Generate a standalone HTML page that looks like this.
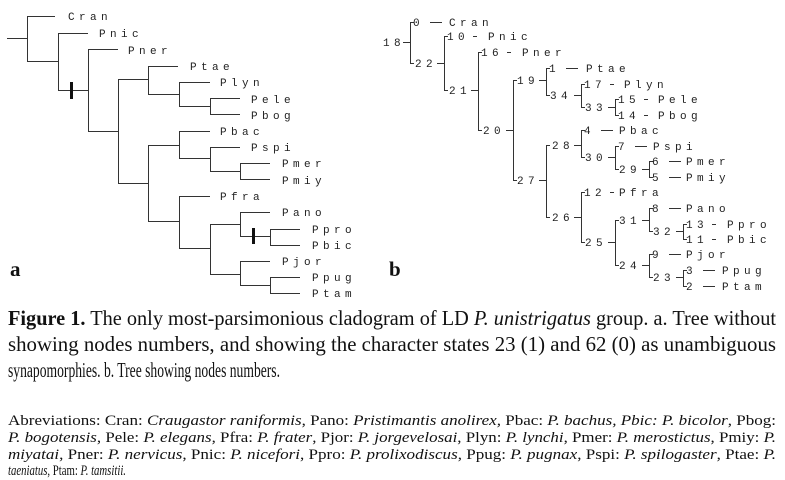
<!DOCTYPE html>
<html><head><meta charset="utf-8"><style>
html,body{margin:0;padding:0;background:#fff}
svg{display:block}
.t{font-family:"Liberation Mono",monospace;font-size:11px;letter-spacing:4.4px;fill:#222}
.c{font-family:"Liberation Serif",serif;font-size:21px;fill:#111}
.ab{font-family:"Liberation Serif",serif;font-size:15px;fill:#111}
</style></head><body>
<svg width="785" height="480" viewBox="0 0 785 480" xmlns="http://www.w3.org/2000/svg">
<g stroke="#333" stroke-width="1" fill="none">
<path d="M7 38.5H27.5M27.5 16V61M27 16.5H55M27 61.5H58.5M58.5 33V90M58 33.5H88M58 90.5H88.5M88.5 49V131M88 49.5H118M88 131.5H118.5M118.5 79V183M118 79.5H148.5M148.5 66V94M148 66.5H178M148 94.5H179.5M179.5 82V106M179 82.5H210M179 106.5H210.5M210.5 98V114M210 98.5H240M210 114.5H240"/>
<path d="M118 183.5H148.5M148.5 145V221M148 145.5H179.5M179.5 131V158M179 131.5H210M179 158.5H210.5M210.5 147V171M210 147.5H240M210 171.5H240.5M240.5 163V179M240 163.5H270M240 179.5H270"/>
<path d="M148 221.5H179.5M179.5 196V248M179 196.5H210M179 248.5H210.5M210.5 224V274M210 224.5H240.5M240.5 212V236M240 212.5H270M240 236.5H270.5M270.5 229V245M270 229.5H300M270 245.5H300M210 274.5H240.5M240.5 261V285M240 261.5H270M240 285.5H270.5M270.5 277V293M270 277.5H300M270 293.5H300"/>
</g>
<rect x="70" y="82" width="3" height="17" fill="#111"/>
<rect x="252" y="228" width="3" height="16" fill="#111"/>
<g class="t">
<text x="68" y="20">Cran</text><text x="99" y="37">Pnic</text><text x="128" y="54">Pner</text>
<text x="190" y="70">Ptae</text><text x="220" y="86">Plyn</text><text x="251" y="103">Pele</text><text x="251" y="119">Pbog</text>
<text x="220" y="135">Pbac</text><text x="251" y="151">Pspi</text><text x="282" y="167">Pmer</text><text x="282" y="184">Pmiy</text>
<text x="220" y="200">Pfra</text><text x="282" y="216">Pano</text><text x="312" y="233">Ppro</text><text x="312" y="249">Pbic</text>
<text x="282" y="265">Pjor</text><text x="312" y="281">Ppug</text><text x="312" y="297">Ptam</text>
</g>
<text x="10" y="276" font-family="Liberation Serif,serif" font-weight="bold" font-size="21" fill="#111">a</text>
<text x="389" y="276" font-family="Liberation Serif,serif" font-weight="bold" font-size="21" fill="#111">b</text>
<g stroke="#333" stroke-width="1" fill="none">
<path d="M414 22.5H410.5V63.5H414M403 42.5H410"/>
<path d="M448 36.5H444.5V90.5H448M437 63.5H444"/>
<path d="M482 52.5H478.5V130.5H482M471 90.5H478"/>
<path d="M517 80.5H513.5V180.5H517M506 130.5H513"/>
<path d="M550 68.5H546.5V95.5H550M539 80.5H546"/>
<path d="M585 84.5H581.5V107.5H585M574 95.5H581"/>
<path d="M619 99.5H615.5V115.5H619M608 107.5H615"/>
<path d="M550 145.5H546.5V217.5H550M539 180.5H546"/>
<path d="M585 130.5H581.5V157.5H585M574 145.5H581"/>
<path d="M619 146.5H615.5V169.5H619M608 157.5H615"/>
<path d="M653 161.5H649.5V177.5H653M642 169.5H649"/>
<path d="M585 192.5H581.5V242.5H585M574 217.5H581"/>
<path d="M619 220.5H615.5V265.5H619M608 242.5H615"/>
<path d="M653 208.5H649.5V231.5H653M642 220.5H649"/>
<path d="M687 224.5H683.5V239.5H687M676 231.5H683"/>
<path d="M653 254.5H649.5V277.5H653M642 265.5H649"/>
<path d="M687 270.5H683.5V286.5H687M676 277.5H683"/>
<path d="M430 22.5H442M566 68.5H578M601 130.5H613M635 146.5H647M669 161.5H681M669 177.5H681M669 208.5H681M669 254.5H681M703 270.5H715M703 286.5H715"/>
<path d="M473 36.5H477M507 52.5H511M610 84.5H614M644 99.5H648M644 115.5H648M610 192.5H614M712 224.5H716M712 239.5H716"/>
</g>
<g class="t">
<text x="383" y="46">18</text><text x="415" y="67">22</text><text x="449" y="94">21</text><text x="483" y="134">20</text>
<text x="517" y="84">19</text><text x="550" y="99">34</text><text x="585" y="111">33</text><text x="517" y="184">27</text>
<text x="552" y="149">28</text><text x="585" y="161">30</text><text x="619" y="173">29</text><text x="552" y="221">26</text>
<text x="585" y="246">25</text><text x="619" y="224">31</text><text x="653" y="235">32</text><text x="619" y="269">24</text><text x="653" y="281">23</text>
<text x="413" y="26">0</text><text x="449" y="26">Cran</text>
<text x="447" y="40">10</text><text x="488" y="40">Pnic</text>
<text x="481" y="56">16</text><text x="522" y="56">Pner</text>
<text x="549" y="72">1</text><text x="586" y="72">Ptae</text>
<text x="584" y="88">17</text><text x="624" y="88">Plyn</text>
<text x="618" y="103">15</text><text x="658" y="103">Pele</text>
<text x="618" y="119">14</text><text x="658" y="119">Pbog</text>
<text x="584" y="134">4</text><text x="619" y="134">Pbac</text>
<text x="618" y="150">7</text><text x="653" y="150">Pspi</text>
<text x="652" y="165">6</text><text x="686" y="165">Pmer</text>
<text x="652" y="181">5</text><text x="686" y="181">Pmiy</text>
<text x="584" y="196">12</text><text x="619" y="196">Pfra</text>
<text x="652" y="212">8</text><text x="686" y="212">Pano</text>
<text x="686" y="228">13</text><text x="727" y="228">Ppro</text>
<text x="686" y="243">11</text><text x="727" y="243">Pbic</text>
<text x="652" y="258">9</text><text x="686" y="258">Pjor</text>
<text x="686" y="274">3</text><text x="722" y="274">Ppug</text>
<text x="686" y="290">2</text><text x="722" y="290">Ptam</text>
</g>
<text class="c" x="8" y="325" textLength="768" lengthAdjust="spacingAndGlyphs"><tspan font-weight="bold">Figure 1.</tspan> The only most-parsimonious cladogram of LD <tspan font-style="italic">P. unistrigatus</tspan> group. a. Tree without</text>
<text class="c" x="8" y="351" textLength="768" lengthAdjust="spacingAndGlyphs">showing nodes numbers, and showing the character states 23 (1) and 62 (0) as unambiguous</text>
<text class="c" x="8" y="377" textLength="272" lengthAdjust="spacingAndGlyphs">synapomorphies. b. Tree showing nodes numbers.</text>
<text class="ab" x="8" y="425" textLength="768" lengthAdjust="spacingAndGlyphs">Abreviations: Cran: <tspan font-style="italic">Craugastor raniformis</tspan>, Pano: <tspan font-style="italic">Pristimantis anolirex,</tspan> Pbac: <tspan font-style="italic">P. bachus, Pbic: P. bicolor</tspan>, Pbog:</text>
<text class="ab" x="8" y="442" textLength="768" lengthAdjust="spacingAndGlyphs"><tspan font-style="italic">P. bogotensis</tspan>, Pele: <tspan font-style="italic">P. elegans</tspan>, Pfra: <tspan font-style="italic">P. frater</tspan>, Pjor: <tspan font-style="italic">P. jorgevelosai</tspan>, Plyn: <tspan font-style="italic">P. lynchi</tspan>, Pmer: <tspan font-style="italic">P. merostictus</tspan>, Pmiy: <tspan font-style="italic">P.</tspan></text>
<text class="ab" x="8" y="459" textLength="768" lengthAdjust="spacingAndGlyphs"><tspan font-style="italic">miyatai</tspan>, Pner: <tspan font-style="italic">P. nervicus</tspan>, Pnic: <tspan font-style="italic">P. nicefori</tspan>, Ppro: <tspan font-style="italic">P. prolixodiscus</tspan>, Ppug: <tspan font-style="italic">P. pugnax</tspan>, Pspi: <tspan font-style="italic">P. spilogaster</tspan>, Ptae: <tspan font-style="italic">P.</tspan></text>
<text class="ab" x="8" y="475" textLength="118" lengthAdjust="spacingAndGlyphs"><tspan font-style="italic">taeniatus</tspan>, Ptam: <tspan font-style="italic">P. tamsitii.</tspan></text>
</svg>
</body></html>
